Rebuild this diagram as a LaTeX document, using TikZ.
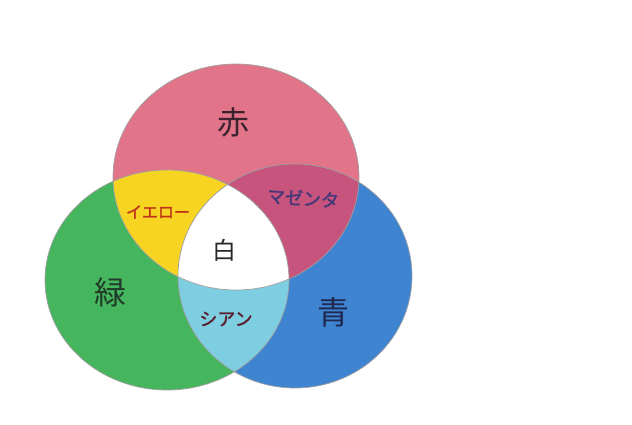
\documentclass[tikz,border=0pt]{standalone}
\usepackage{fontspec}
\newfontfamily\jp{Noto Sans CJK JP}
\newfontfamily\jpb{Noto Sans CJK JP}[FakeBold=1.5]
\definecolor{redc}{RGB}{226,116,138}
\definecolor{greenc}{RGB}{70,182,94}
\definecolor{bluec}{RGB}{62,132,208}
\definecolor{yellowc}{RGB}{248,212,34}
\definecolor{magentac}{RGB}{198,84,124}
\definecolor{cyanc}{RGB}{126,206,226}
\tikzset{
  ring/.style={draw=gray!75, line width=0.7pt},
  big/.style={font=\jp\fontsize{32}{32}\selectfont},
  mid/.style={font=\jp\fontsize{24}{24}\selectfont, text={rgb,255:red,40;green,40;blue,40}},
  small/.style={font=\jpb\fontsize{18}{18}\selectfont}
}
\begin{document}
\begin{tikzpicture}[x=1pt,y=-1pt]
\useasboundingbox (0,0) rectangle (632,425);
\fill[white] (0,0) rectangle (632,425);
% base circles
\fill[redc] (236,177) ellipse [x radius=123, y radius=113];
\fill[greenc] (167,280) ellipse [x radius=122, y radius=110];
\fill[bluec] (295,276) ellipse [x radius=117, y radius=112];
% pairwise overlaps
\begin{scope}
  \clip (236,177) ellipse [x radius=123, y radius=113];
  \fill[yellowc] (167,280) ellipse [x radius=122, y radius=110];
\end{scope}
\begin{scope}
  \clip (236,177) ellipse [x radius=123, y radius=113];
  \fill[magentac] (295,276) ellipse [x radius=117, y radius=112];
\end{scope}
\begin{scope}
  \clip (167,280) ellipse [x radius=122, y radius=110];
  \fill[cyanc] (295,276) ellipse [x radius=117, y radius=112];
\end{scope}
\begin{scope}
  \clip (236,177) ellipse [x radius=123, y radius=113];
  \clip (167,280) ellipse [x radius=122, y radius=110];
  \fill[white] (295,276) ellipse [x radius=117, y radius=112];
\end{scope}
% outlines
\draw[ring] (236,177) ellipse [x radius=123, y radius=113];
\draw[ring] (167,280) ellipse [x radius=122, y radius=110];
\draw[ring] (295,276) ellipse [x radius=117, y radius=112];
% labels
\node[big, text={rgb,255:red,60;green,35;blue,45}] (aka) at (233,122) {赤};
\node[big, text={rgb,255:red,30;green,60;blue,40}] (midori) at (110,292) {緑};
\node[big, text={rgb,255:red,30;green,40;blue,80}] (ao) at (333,312) {青};
\node[mid] (shiro) at (224,250) {白};
\node[small, font=\jpb\fontsize{16}{16}\selectfont, text={rgb,255:red,190;green,50;blue,25}] (yellow) at (158,212) {イエロー};
\node[small, text={rgb,255:red,70;green,55;blue,120}, rotate=-4] (magenta) at (303,198) {マゼンタ};
\node[small, text={rgb,255:red,90;green,30;blue,45}] (cyan) at (226,319) {シアン};
\end{tikzpicture}
\end{document}
